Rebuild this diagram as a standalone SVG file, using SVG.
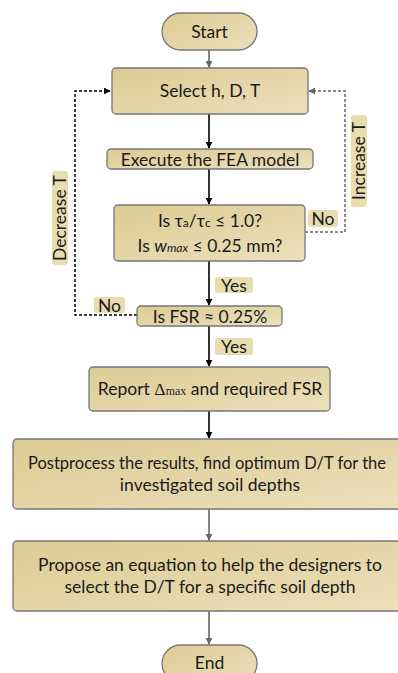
<svg xmlns="http://www.w3.org/2000/svg" width="398" height="673" viewBox="0 0 398 673">
<defs>
<linearGradient id="g" x1="0" y1="0" x2="1" y2="1">
<stop offset="0" stop-color="#dccb94"/>
<stop offset="1" stop-color="#ece0bb"/>
</linearGradient>
<marker id="ab" viewBox="0 0 10 10" refX="9" refY="5" markerWidth="7" markerHeight="7" markerUnits="userSpaceOnUse" orient="auto"><path d="M0,0 L10,5 L0,10 Z" fill="#000"/></marker>
<marker id="ag" viewBox="0 0 10 10" refX="9" refY="5" markerWidth="7" markerHeight="7" markerUnits="userSpaceOnUse" orient="auto"><path d="M0,0 L10,5 L0,10 Z" fill="#666"/></marker>
<style>
.n{fill:url(#g);stroke:#777;stroke-width:1.3}
.t{font-family:Lato,"Open Sans",sans-serif;font-size:17.5px;fill:#1a1a1a;text-anchor:middle}
.lb{fill:#e9dcaf}
.k{stroke:#000;stroke-width:1.6;fill:none;marker-end:url(#ab)}
.gr{stroke:#666;stroke-width:1.6;fill:none;marker-end:url(#ag)}
.s{font-family:"Liberation Serif",serif}
</style>
</defs>
<g id="connectors">
<line class="gr" x1="209" y1="50" x2="209" y2="67"/>
<line class="k" x1="209" y1="114" x2="209" y2="148"/>
<line class="k" x1="209" y1="169" x2="209" y2="204"/>
<line class="k" x1="209" y1="261" x2="209" y2="305"/>
<line class="k" x1="209" y1="326" x2="209" y2="366"/>
<line class="k" x1="209" y1="411" x2="209" y2="438"/>
<line class="gr" x1="209" y1="509" x2="209" y2="540"/>
<line class="gr" x1="209" y1="611" x2="209" y2="644"/>
<path d="M305,232 H345 V91 H309" stroke="#666" stroke-width="1.5" fill="none" stroke-dasharray="3,2" marker-end="url(#ag)"/>
<path d="M137,315 H75 V91 H110" stroke="#000" stroke-width="1.5" fill="none" stroke-dasharray="3,2" marker-end="url(#ab)"/>
</g>
<g id="start">
<rect class="n" x="162" y="13" width="95" height="37" rx="18.5"/>
<text class="t" x="209.5" y="38">Start</text>
</g>
<g id="select">
<rect class="n" x="112" y="68" width="196" height="46" rx="4"/>
<text class="t" x="210" y="97">Select  h, D, T</text>
</g>
<g id="execute">
<rect class="n" x="107" y="149" width="206" height="20" rx="4"/>
<text class="t" x="210" y="165.5">Execute the FEA model</text>
</g>
<g id="decision">
<rect class="n" x="114" y="205" width="191" height="56" rx="4"/>
<text class="t" x="210" y="227">Is τ<tspan font-size="12">a</tspan>/τ<tspan font-size="12">c</tspan> ≤ 1.0?</text>
<text class="t" x="210" y="252">Is <tspan font-style="italic">w</tspan><tspan font-style="italic" font-size="12">max</tspan> ≤ 0.25 mm?</text>
</g>
<g id="fsr">
<rect class="n" x="137" y="306" width="145" height="20" rx="4"/>
<text class="t" x="210" y="322.5">Is FSR ≈  0.25%</text>
</g>
<g id="report">
<rect class="n" x="89" y="367" width="241" height="44" rx="4"/>
<text class="t" x="210" y="395">Report <tspan class="s">Δ</tspan><tspan class="s" font-size="12">max</tspan> and required FSR</text>
</g>
<g id="postprocess">
<rect class="n" x="13" y="439" width="392" height="70" rx="4"/>
<text class="t" x="207" y="469" font-size="16.5px" style="font-size:16.5px">Postprocess the results, find optimum D/T for the</text>
<text class="t" x="210" y="491">investigated soil depths</text>
</g>
<g id="propose">
<rect class="n" x="13" y="541" width="392" height="70" rx="4"/>
<text class="t" x="210" y="571">Propose an equation to help the designers to</text>
<text class="t" x="210" y="593">select the D/T for a specific soil depth</text>
</g>
<g id="end">
<rect class="n" x="162" y="645" width="95" height="37" rx="18.5"/>
<text class="t" x="209.5" y="669">End</text>
</g>
<g id="labels">
<g id="lbl-no-right"><rect class="lb" x="308" y="210" width="30" height="17" rx="3"/><text class="t" x="323" y="224.5">No</text></g>
<g id="lbl-increase"><rect class="lb" x="351" y="115" width="16" height="92" rx="3"/><text class="t" transform="translate(365,161) rotate(-90)">Increase T</text></g>
<g id="lbl-decrease"><rect class="lb" x="52" y="171" width="16" height="94" rx="3"/><text class="t" transform="translate(66,218) rotate(-90)">Decrease T</text></g>
<g id="lbl-no-left"><rect class="lb" x="94" y="297" width="31" height="16" rx="3"/><text class="t" x="109.5" y="311.5">No</text></g>
<g id="lbl-yes1"><rect class="lb" x="215" y="277" width="38" height="16" rx="3"/><text class="t" x="234" y="291.5">Yes</text></g>
<g id="lbl-yes2"><rect class="lb" x="215" y="338" width="38" height="17" rx="3"/><text class="t" x="234" y="352.5">Yes</text></g>
</g>
</svg>
